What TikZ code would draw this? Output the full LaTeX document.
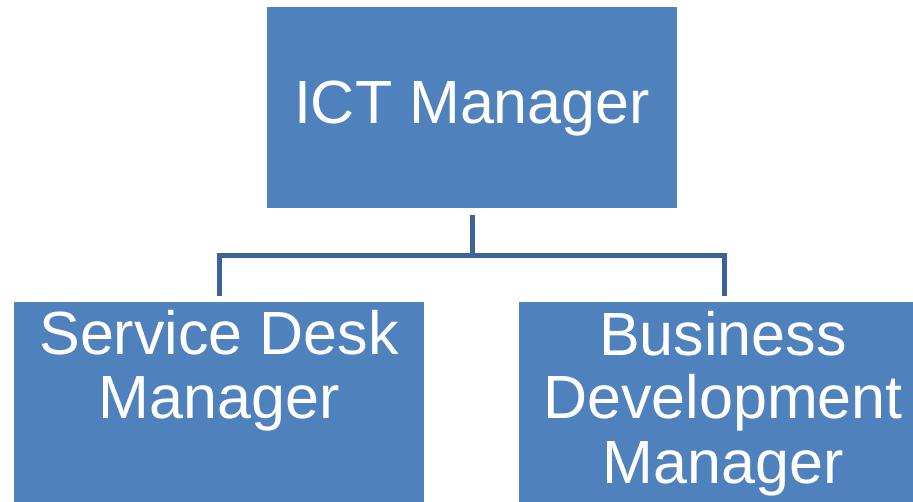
\documentclass[tikz,border=0pt]{standalone}
\usepackage{fontspec}
\setmainfont{Liberation Sans}
\definecolor{boxblue}{HTML}{4F81BD}
\definecolor{linkblue}{HTML}{3C6496}
\begin{document}
\begin{tikzpicture}[x=1pt,y=-1pt,
  orgbox/.style={draw=white,line width=1pt,fill=boxblue,rectangle,inner sep=0pt,
    minimum width=411pt,minimum height=202pt,anchor=north west},
  orgtext/.style={text=white,font=\fontsize{61}{64}\selectfont,anchor=base,inner sep=0pt},
  conn/.style={draw=linkblue,line width=5pt,line join=miter,shorten <=6pt,shorten >=5pt}]
\useasboundingbox (0,0) rectangle (913,502);
\clip (0,0) rectangle (913,502);
\node[orgbox] (ict) at (266,6) {};
\node[orgbox] (sd) at (13,301) {};
\node[orgbox] (bd) at (518,301) {};
\node[orgtext] (t1) at (472,124) {ICT Manager};
\node[orgtext] (t2a) at (219,355) {Service Desk};
\node[orgtext] (t2b) at (219,419) {Manager};
\node[orgtext] (t3a) at (723,356) {Business};
\node[orgtext] (t3b) at (723,419) {Development};
\node[orgtext] (t3c) at (723,483) {Manager};
\draw[conn] (ict.south) -- ++(0,47) -| (sd.north);
\draw[conn] (ict.south) -- ++(0,47) -| (bd.north);
\end{tikzpicture}
\end{document}
